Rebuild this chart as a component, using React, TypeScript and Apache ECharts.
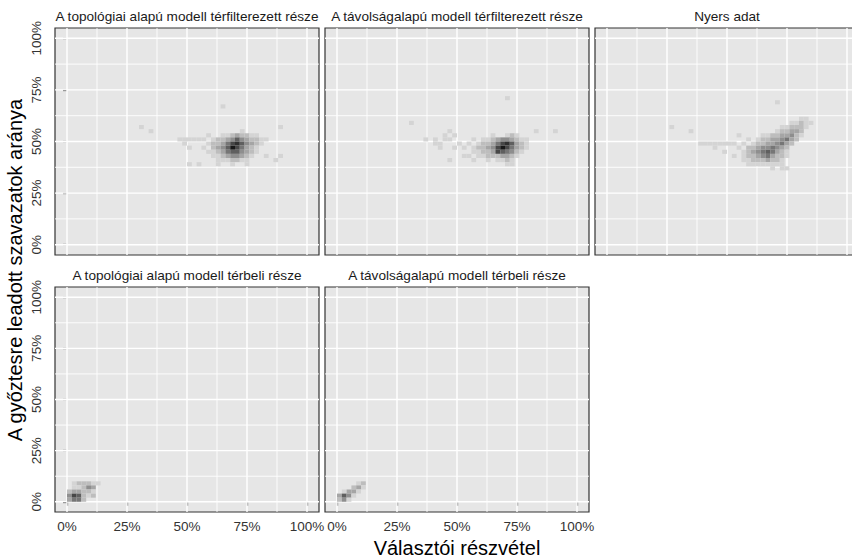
import React, { useEffect, useRef } from 'react';
import * as echarts from 'echarts';

// ---------- data ----------
const PANEL_TITLES = [
  'A topológiai alapú modell térfilterezett része',
  'A távolságalapú modell térfilterezett része',
  'Nyers adat',
  'A topológiai alapú modell térbeli része',
  'A távolságalapú modell térbeli része',
];
const X_TITLE = 'Választói részvétel';
const Y_TITLE = 'A győztesre leadott szavazatok aránya';
const TICK_VALUES = [0, 25, 50, 75, 100];
const GRID_BREAKS = [0, 12.5, 25, 37.5, 50, 62.5, 75, 87.5, 100];
const BIN = 2; // bin width in percentage points
const AXIS_MIN = -5;
const AXIS_MAX = 105;

// [x bin start, y bin start, count]
const topoFiltered: number[][] = [
  [30, 56, 1], [34, 54, 1], [64, 66, 1], [88, 56, 1], [88, 42, 1], [86, 40, 1], [82, 42, 1],
  [72, 54, 1],
  [58, 52, 1], [64, 52, 1], [66, 52, 1], [68, 52, 2], [70, 52, 3], [72, 52, 2], [74, 52, 2], [76, 52, 1], [78, 52, 1],
  [46, 50, 1], [48, 50, 1], [50, 50, 1], [52, 50, 1], [54, 50, 1], [56, 50, 1], [60, 50, 1], [62, 50, 2], [64, 50, 2],
  [66, 50, 3], [68, 50, 4], [70, 50, 6], [72, 50, 4], [74, 50, 3], [76, 50, 2], [78, 50, 2], [80, 50, 1], [82, 50, 1],
  [48, 48, 1], [58, 48, 1], [60, 48, 2], [62, 48, 2], [64, 48, 3], [66, 48, 5], [68, 48, 7], [70, 48, 8], [72, 48, 6],
  [74, 48, 4], [76, 48, 3], [78, 48, 2], [80, 48, 1],
  [50, 46, 1], [56, 46, 1], [60, 46, 2], [62, 46, 3], [64, 46, 4], [66, 46, 6], [68, 46, 9], [70, 46, 7], [72, 46, 5],
  [74, 46, 3], [76, 46, 2], [78, 46, 1],
  [58, 44, 1], [60, 44, 1], [62, 44, 2], [64, 44, 3], [66, 44, 5], [68, 44, 6], [70, 44, 6], [72, 44, 4], [74, 44, 3],
  [76, 44, 2], [78, 44, 1],
  [60, 42, 1], [62, 42, 1], [64, 42, 2], [66, 42, 3], [68, 42, 4], [70, 42, 4], [72, 42, 3], [74, 42, 2], [76, 42, 1],
  [62, 40, 1], [64, 40, 1], [66, 40, 1], [68, 40, 2], [70, 40, 2], [72, 40, 1], [74, 40, 1],
  [50, 38, 1], [54, 38, 1], [62, 38, 1], [68, 38, 1], [74, 38, 1],
];

const distFiltered: number[][] = [
  [70, 70, 1], [30, 58, 1], [82, 54, 1], [90, 54, 1], [36, 50, 1],
  [46, 54, 1],
  [44, 52, 1], [48, 52, 1], [64, 52, 1], [70, 52, 1], [72, 52, 2], [74, 52, 1],
  [40, 50, 1], [44, 50, 1], [46, 50, 1], [56, 50, 1], [60, 50, 1], [62, 50, 1], [64, 50, 2], [66, 50, 3], [68, 50, 4],
  [70, 50, 4], [72, 50, 3], [74, 50, 2], [76, 50, 1], [78, 50, 1],
  [40, 48, 1], [42, 48, 1], [50, 48, 1], [54, 48, 1], [58, 48, 1], [60, 48, 2], [62, 48, 2], [64, 48, 3], [66, 48, 5],
  [68, 48, 7], [70, 48, 8], [72, 48, 6], [74, 48, 3], [76, 48, 2], [78, 48, 1],
  [42, 46, 1], [48, 46, 1], [52, 46, 1], [56, 46, 1], [58, 46, 2], [60, 46, 2], [62, 46, 3], [64, 46, 4], [66, 46, 7],
  [68, 46, 9], [70, 46, 7], [72, 46, 5], [74, 46, 3], [76, 46, 2], [78, 46, 1],
  [56, 44, 1], [58, 44, 1], [60, 44, 2], [62, 44, 2], [64, 44, 3], [66, 44, 7], [68, 44, 6], [70, 44, 5], [72, 44, 4],
  [74, 44, 2], [76, 44, 1],
  [52, 42, 1], [54, 42, 1], [58, 42, 1], [60, 42, 1], [62, 42, 2], [64, 42, 2], [66, 42, 2], [68, 42, 3], [70, 42, 3],
  [72, 42, 2], [74, 42, 1],
  [46, 40, 1], [56, 40, 1], [62, 40, 1], [66, 40, 1], [68, 40, 1], [70, 40, 2], [72, 40, 1],
  [70, 38, 1], [72, 38, 1],
];

const rawData: number[][] = [
  [70, 68, 1], [26, 56, 1],
  [80, 60, 1], [82, 60, 1],
  [76, 58, 1], [78, 58, 1], [80, 58, 2], [82, 58, 1], [84, 58, 1],
  [72, 56, 1], [74, 56, 1], [76, 56, 2], [78, 56, 2], [80, 56, 2], [82, 56, 1],
  [34, 54, 1], [70, 54, 1], [72, 54, 2], [74, 54, 2], [76, 54, 3], [78, 54, 3], [80, 54, 2],
  [54, 52, 1], [64, 52, 1], [66, 52, 1], [68, 52, 2], [70, 52, 2], [72, 52, 3], [74, 52, 3], [76, 52, 4], [78, 52, 2],
  [80, 52, 1],
  [58, 50, 1], [62, 50, 1], [64, 50, 2], [66, 50, 2], [68, 50, 3], [70, 50, 3], [72, 50, 4], [74, 50, 5], [76, 50, 3],
  [78, 50, 2],
  [38, 48, 1], [40, 48, 1], [42, 48, 1], [44, 48, 1], [46, 48, 1], [48, 48, 1], [50, 48, 1], [52, 48, 1], [56, 48, 1],
  [60, 48, 1], [62, 48, 2], [64, 48, 2], [66, 48, 3], [68, 48, 3], [70, 48, 4], [72, 48, 5], [74, 48, 3], [76, 48, 2],
  [44, 46, 1], [54, 46, 1], [58, 46, 2], [60, 46, 2], [62, 46, 3], [64, 46, 4], [66, 46, 4], [68, 46, 5], [70, 46, 4],
  [72, 46, 3], [74, 46, 2],
  [48, 44, 1], [56, 44, 1], [58, 44, 2], [60, 44, 3], [62, 44, 4], [64, 44, 5], [66, 44, 6], [68, 44, 5], [70, 44, 3],
  [72, 44, 2], [74, 44, 1],
  [52, 42, 1], [56, 42, 1], [58, 42, 2], [60, 42, 2], [62, 42, 3], [64, 42, 4], [66, 42, 5], [68, 42, 3], [70, 42, 2],
  [72, 42, 2], [74, 42, 1],
  [56, 40, 1], [58, 40, 1], [60, 40, 2], [62, 40, 2], [64, 40, 2], [66, 40, 3], [68, 40, 2], [70, 40, 2], [72, 40, 1],
  [58, 38, 1], [60, 38, 1], [62, 38, 1], [64, 38, 1], [66, 38, 1], [68, 38, 1], [70, 38, 1], [72, 38, 1],
  [68, 36, 1], [72, 36, 1], [74, 36, 1],
];

const topoSpatial: number[][] = [
  [2, 8, 1], [4, 8, 2], [6, 8, 2], [8, 8, 2], [10, 8, 1], [12, 8, 1],
  [2, 6, 1], [4, 6, 1], [6, 6, 2], [8, 6, 4], [10, 6, 3],
  [0, 4, 2], [2, 4, 3], [4, 4, 3], [6, 4, 2], [8, 4, 2], [10, 4, 1],
  [0, 2, 4], [2, 2, 7], [4, 2, 6], [6, 2, 2], [8, 2, 1], [10, 2, 2],
  [0, 0, 3], [2, 0, 5], [4, 0, 5], [6, 0, 2],
];

const distSpatial: number[][] = [
  [8, 8, 1], [10, 8, 2],
  [6, 6, 2], [8, 6, 3], [10, 6, 1],
  [2, 4, 1], [4, 4, 3], [6, 4, 3], [8, 4, 1],
  [0, 2, 3], [2, 2, 6], [4, 2, 4], [6, 2, 1],
  [0, 0, 2], [2, 0, 4], [4, 0, 1],
];

const PANEL_DATA = [topoFiltered, distFiltered, rawData, topoSpatial, distSpatial];
const COUNT_MAX = 9;

// ---------- layout ----------
const LAYOUT = [
  { left: 55, top: 28, width: 264, height: 227, xLabels: false, yLabels: true },
  { left: 325, top: 28, width: 264, height: 227, xLabels: false, yLabels: false },
  { left: 595, top: 28, width: 264, height: 227, xLabels: false, yLabels: false },
  { left: 55, top: 287, width: 264, height: 225, xLabels: true, yLabels: true },
  { left: 325, top: 287, width: 264, height: 225, xLabels: true, yLabels: false },
];
const STRIP_Y = [16, 16, 16, 275, 275];
const FONT = '"Liberation Sans", Arial, Helvetica, sans-serif';

function binColor(v: number): string {
  const t = Math.max(0, Math.min(1, (v - 1) / (COUNT_MAX - 1)));
  const c = Math.round(0xd4 + (0x18 - 0xd4) * t);
  return `rgb(${c},${c},${c})`;
}

export default function App() {
  const ref = useRef<HTMLDivElement>(null);

  useEffect(() => {
    if (!ref.current) return;
    const chart = echarts.init(ref.current, null, { renderer: 'svg' });

    const grids: any[] = [];
    const xAxes: any[] = [];
    const yAxes: any[] = [];
    const series: any[] = [];
    const graphics: any[] = [];

    PANEL_DATA.forEach((bins, i) => {
      const L = LAYOUT[i];
      grids.push({
        left: L.left,
        top: L.top,
        width: L.width,
        height: L.height,
        show: true,
        backgroundColor: '#E6E6E6',
        borderColor: '#333333',
        borderWidth: 1.2,
        containLabel: false,
        outerBoundsMode: 'none',
      });
      xAxes.push({
        type: 'value',
        gridIndex: i,
        min: AXIS_MIN,
        max: AXIS_MAX,
        splitLine: { show: false },
        axisLine: { show: false },
        axisTick: {
          show: L.xLabels,
          customValues: TICK_VALUES,
          length: 4,
          lineStyle: { color: '#333333', width: 1.2 },
        },
        axisLabel: {
          show: L.xLabels,
          customValues: TICK_VALUES,
          formatter: (v: number) => `${v}%`,
          color: '#333333',
          fontSize: 13.5,
          fontFamily: FONT,
          margin: 7,
        },
      });
      yAxes.push({
        type: 'value',
        gridIndex: i,
        min: AXIS_MIN,
        max: AXIS_MAX,
        splitLine: { show: false },
        axisLine: { show: false },
        axisTick: {
          show: L.yLabels,
          customValues: TICK_VALUES,
          length: 4,
          lineStyle: { color: '#333333', width: 1.2 },
        },
        axisLabel: {
          show: L.yLabels,
          customValues: TICK_VALUES,
          formatter: (v: number) => `${v}%`,
          rotate: 90,
          color: '#333333',
          fontSize: 13.5,
          fontFamily: FONT,
          margin: 12,
        },
      });

      // white grid lines
      series.push({
        type: 'custom',
        xAxisIndex: i,
        yAxisIndex: i,
        silent: true,
        z: 1,
        data: GRID_BREAKS.map((b) => [b, b]),
        encode: { x: 0, y: 1 },
        renderItem: (_p: any, api: any) => {
          const b = api.value(0);
          const w = b % 25 === 0 ? 1.4 : 0.9;
          const a1 = api.coord([b, AXIS_MIN]);
          const a2 = api.coord([b, AXIS_MAX]);
          const b1 = api.coord([AXIS_MIN, b]);
          const b2 = api.coord([AXIS_MAX, b]);
          return {
            type: 'group',
            children: [
              { type: 'line', shape: { x1: a1[0], y1: a1[1], x2: a2[0], y2: a2[1] }, style: { stroke: '#ffffff', lineWidth: w } },
              { type: 'line', shape: { x1: b1[0], y1: b1[1], x2: b2[0], y2: b2[1] }, style: { stroke: '#ffffff', lineWidth: w } },
            ],
          };
        },
      });

      // 2D histogram tiles
      series.push({
        type: 'custom',
        xAxisIndex: i,
        yAxisIndex: i,
        silent: true,
        z: 2,
        data: bins,
        encode: { x: 0, y: 1 },
        renderItem: (_p: any, api: any) => {
          const x = api.value(0);
          const y = api.value(1);
          const v = api.value(2);
          const p0 = api.coord([x, y + BIN]);
          const p1 = api.coord([x + BIN, y]);
          return {
            type: 'rect',
            shape: { x: p0[0], y: p0[1], width: p1[0] - p0[0], height: p1[1] - p0[1] },
            style: { fill: binColor(v) },
          };
        },
      });

      graphics.push({
        type: 'text',
        x: L.left + L.width / 2,
        y: STRIP_Y[i],
        style: {
          text: PANEL_TITLES[i],
          align: 'center',
          verticalAlign: 'middle',
          fontSize: 13.6,
          fontFamily: FONT,
          fill: '#1a1a1a',
        },
      });
    });

    graphics.push({
      type: 'text',
      x: 457,
      y: 548,
      style: {
        text: X_TITLE,
        align: 'center',
        verticalAlign: 'middle',
        fontSize: 20,
        fontFamily: FONT,
        fill: '#000000',
      },
    });
    graphics.push({
      type: 'text',
      x: 15,
      y: 270,
      rotation: Math.PI / 2,
      style: {
        text: Y_TITLE,
        align: 'center',
        verticalAlign: 'middle',
        fontSize: 20,
        fontFamily: FONT,
        fill: '#000000',
      },
    });

    chart.setOption({
      animation: false,
      backgroundColor: '#ffffff',
      grid: grids,
      xAxis: xAxes,
      yAxis: yAxes,
      series,
      graphic: graphics,
    });

    return () => chart.dispose();
  }, []);

  return (
    <div
      ref={ref}
      style={{ position: 'absolute', left: 0, top: 0, width: 852, height: 559 }}
    />
  );
}
